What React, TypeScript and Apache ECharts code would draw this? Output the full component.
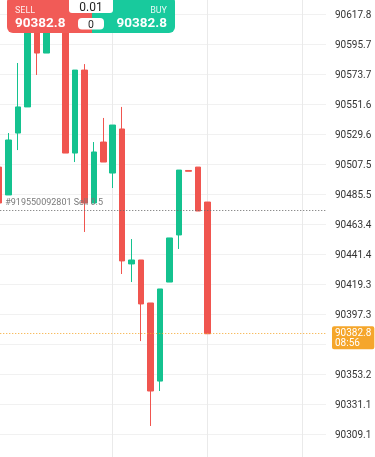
import React, { useEffect, useRef } from 'react';
import * as echarts from 'echarts';

// ---- data ----
const categories = [
  '08:23', '08:24', '08:25', '08:26', '08:27', '08:28', '08:29', '08:30', '08:31', '08:32',
  '08:33', '08:34', '08:35', '08:36', '08:37', '08:38', '08:39', '08:40', '08:41', '08:42',
  '08:43', '08:44', '08:45', '08:46', '08:47', '08:48', '08:49', '08:50', '08:51', '08:52',
  '08:53', '08:54', '08:55', '08:56', '08:57',
];
const opens = [
  90505.3, 90484.8, 90530.3, 90549.5, 90610.5, 90589.1, 90615.0, 90606.0, 90515.6, 90576.6,
  90478.9, 90523.7, 90500.9, 90533.3, 90434.1, 90437.0, 90405.4, 90348.0, 90420.8, 90455.4,
  90502.8, 90505.3, 90479.6,
];
const closes = [
  90478.9, 90525.2, 90549.5, 90612.0, 90589.1, 90607.0, 90606.0, 90515.6, 90576.6, 90478.9,
  90516.4, 90509.0, 90536.2, 90436.3, 90437.0, 90404.7, 90340.7, 90415.7, 90453.2, 90503.1,
  90502.2, 90473.0, 90382.8,
];
const lows = [
  90478.9, 90484.8, 90517.8, 90549.5, 90573.0, 90589.1, 90605.0, 90515.6, 90509.0, 90457.6,
  90478.9, 90509.0, 90489.9, 90426.7, 90420.8, 90377.4, 90315.0, 90340.7, 90420.8, 90445.1,
  90502.2, 90473.0, 90382.8,
];
const highs = [
  90505.3, 90530.3, 90581.8, 90615.0, 90618.0, 90612.0, 90620.0, 90611.0, 90576.6, 90581.0,
  90523.7, 90541.4, 90536.2, 90549.5, 90452.4, 90437.0, 90405.4, 90415.7, 90453.2, 90503.1,
  90502.8, 90505.3, 90479.6,
];
const yTicks = [
  90309.1, 90331.1, 90353.2, 90375.2, 90397.3, 90419.3, 90441.4, 90463.4,
  90485.5, 90507.5, 90529.6, 90551.6, 90573.7, 90595.7, 90617.8,
];
const yHiddenLabel = 90375.2;
const yMin = 90292.2;
const yMax = 90628.1;
const verticalLineIdx = [12, 22, 32];
const orderPrice = 90473.7;
const orderLabel = '#919550092801 Sell 0.5';
const lastPrice = 90382.8;
const countdown = '08:56';
const lotSize = '0.01';
const spreadText = '0';
const sellPrice = '90382.8';
const buyPrice = '90382.8';

const RED = '#F0554F';
const GREEN = '#14C28F';
const UI_RED = '#F15B57';
const UI_GREEN = '#18CA9D';
const ORANGE = '#F5A62B';
const FONT = 'Roboto, "Noto Sans", sans-serif';
// the chart canvas starts 6px left of the page so the first candle is cut off
const SHIFT = 6;

export default function App() {
  const ref = useRef<HTMLDivElement>(null);
  useEffect(() => {
    if (!ref.current) return;
    const chart = echarts.init(ref.current, undefined, { renderer: 'svg' });
    const candleData = opens.map((o, i) => [o, closes[i], lows[i], highs[i]]);
    const option: any = {
      animation: false,
      textStyle: { fontFamily: FONT },
      grid: { left: 0.26, right: 49, top: 0, bottom: 0, containLabel: false },
      xAxis: {
        type: 'category',
        data: categories,
        boundaryGap: true,
        axisLine: { show: false },
        axisTick: { show: false, alignWithLabel: true },
        axisLabel: { show: false },
        splitLine: {
          show: true,
          alignWithLabel: true,
          interval: (idx: number) => verticalLineIdx.includes(idx),
          lineStyle: { color: '#EAEAEA', width: 1 },
        },
      },
      yAxis: {
        type: 'value',
        position: 'right',
        min: yMin,
        max: yMax,
        scale: true,
        axisLine: { show: false },
        axisTick: { show: false, customValues: yTicks },
        axisLabel: {
          customValues: yTicks.filter((v) => v !== yHiddenLabel),
          color: '#333',
          fontSize: 10,
          fontFamily: FONT,
          margin: 9,
          align: 'left',
          formatter: (v: number) => v.toFixed(1),
        },
        splitLine: { show: true, lineStyle: { color: '#F1F1F1', width: 1 } },
      },
      series: [
        {
          type: 'line',
          data: [],
          z: 1,
          silent: true,
          markLine: {
            silent: true,
            symbol: 'none',
            data: [
              {
                yAxis: orderPrice,
                lineStyle: { color: '#666', type: [1, 2], width: 1 },
                label: {
                  show: true,
                  formatter: orderLabel,
                  position: 'insideStartTop',
                  distance: [11, 4],
                  color: '#7A7A7A',
                  fontSize: 9,
                  fontFamily: FONT,
                },
              },
            ],
          },
        },
        {
          type: 'candlestick',
          data: candleData,
          barWidth: 6,
          z: 3,
          itemStyle: {
            color: GREEN,
            color0: RED,
            borderColor: GREEN,
            borderColor0: RED,
            borderWidth: 1,
          },
        },
        {
          type: 'line',
          data: [],
          z: 5,
          silent: true,
          markLine: {
            silent: true,
            symbol: 'none',
            data: [
              {
                yAxis: lastPrice,
                lineStyle: { color: ORANGE, type: [1, 2], width: 1 },
                label: {
                  show: true,
                  position: 'end',
                  distance: 6,
                  formatter: lastPrice.toFixed(1) + '\n' + countdown,
                  backgroundColor: ORANGE,
                  color: '#fff',
                  fontSize: 10,
                  lineHeight: 10,
                  padding: [2, 3, 1, 3],
                  borderRadius: 2,
                  align: 'left',
                  offset: [0, 4],
                  fontFamily: FONT,
                },
              },
            ],
          },
        },
      ],
      graphic: [
        { type: 'rect', z: 100, shape: { x: 7 + SHIFT, y: -4, width: 86, height: 37, r: [6, 0, 0, 6] }, style: { fill: UI_RED } },
        { type: 'rect', z: 100, shape: { x: 92 + SHIFT, y: -4, width: 83, height: 37, r: [0, 6, 6, 0] }, style: { fill: UI_GREEN } },
        { type: 'rect', z: 101, shape: { x: 69 + SHIFT, y: -4, width: 44, height: 17, r: 3 }, style: { fill: '#fff' } },
        { type: 'rect', z: 101, shape: { x: 78 + SHIFT, y: 18, width: 26, height: 11.5, r: 4 }, style: { fill: '#fff' } },
        { type: 'text', z: 102, x: 15 + SHIFT, y: 10, style: { text: 'SELL', fill: 'rgba(255,255,255,0.88)', fontSize: 9, fontFamily: FONT, align: 'left', verticalAlign: 'middle' } },
        { type: 'text', z: 102, x: 15 + SHIFT, y: 22, style: { text: sellPrice, fill: '#fff', fontSize: 13.5, fontWeight: 'bold', fontFamily: FONT, align: 'left', verticalAlign: 'middle' } },
        { type: 'text', z: 102, x: 167 + SHIFT, y: 10, style: { text: 'BUY', fill: 'rgba(255,255,255,0.88)', fontSize: 9, fontFamily: FONT, align: 'right', verticalAlign: 'middle' } },
        { type: 'text', z: 102, x: 167 + SHIFT, y: 22, style: { text: buyPrice, fill: '#fff', fontSize: 13.5, fontWeight: 'bold', fontFamily: FONT, align: 'right', verticalAlign: 'middle' } },
        { type: 'text', z: 102, x: 91 + SHIFT, y: 6.5, style: { text: lotSize, fill: '#222', fontSize: 12, fontFamily: FONT, align: 'center', verticalAlign: 'middle' } },
        { type: 'text', z: 102, x: 91 + SHIFT, y: 24, style: { text: spreadText, fill: '#222', fontSize: 10.5, fontFamily: FONT, align: 'center', verticalAlign: 'middle' } },
      ],
    };
    chart.setOption(option);
    return () => chart.dispose();
  }, []);
  return (
    <div style={{ position: 'fixed', left: 0, top: 0, width: 375, height: 457, overflow: 'hidden' }}>
      <div ref={ref} style={{ position: 'absolute', left: -SHIFT, top: 0, width: 375 + SHIFT, height: 457 }} />
    </div>
  );
}
